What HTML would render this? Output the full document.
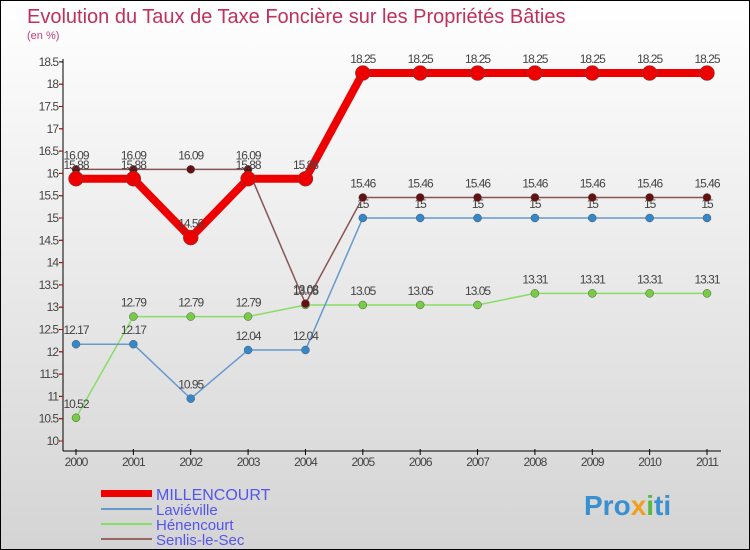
<!DOCTYPE html>
<html><head><meta charset="utf-8"><style>
body{margin:0;}
#c{position:relative;width:748px;height:548px;border:1px solid #000;background:linear-gradient(#fff,#d4d4d4);overflow:hidden;font-family:"Liberation Sans",sans-serif;}
</style></head><body>
<div id="c">
<svg id="s" width="748" height="548" style="position:absolute;left:0;top:0">
<text x="26" y="22" font-size="20" fill="#c0305a">Evolution du Taux de Taxe Foncière sur les Propriétés Bâties</text>
<text x="26" y="38" font-size="11" fill="#c0407a">(en %)</text>
<g id="axes"></g><g id="series"></g>
<g>
<rect x="100" y="489" width="51" height="7" fill="#e00"/>
<text x="155" y="499" font-size="16" fill="#5555ee">MILLENCOURT</text>
<line x1="100" y1="508" x2="151" y2="508" stroke="#6699cc" stroke-width="2"/>
<text x="155" y="514" font-size="15" fill="#5555ee">Laviéville</text>
<line x1="100" y1="523" x2="151" y2="523" stroke="#88dd66" stroke-width="2"/>
<text x="155" y="529" font-size="15" fill="#5555ee">Hénencourt</text>
<line x1="100" y1="538" x2="151" y2="538" stroke="#996666" stroke-width="2"/>
<text x="155" y="544" font-size="15" fill="#5555ee">Senlis-le-Sec</text>
</g>
<text x="583" y="514" font-size="28" font-weight="bold" fill="#3a8fd0">Pro<tspan fill="#f0a020">x</tspan><tspan fill="#55bb44">i</tspan>ti</text>
</svg>
</div>
<script>
const years=["2000","2001","2002","2003","2004","2005","2006","2007","2008","2009","2010","2011"];
const yTicks=[10,10.5,11,11.5,12,12.5,13,13.5,14,14.5,15,15.5,16,16.5,17,17.5,18,18.5];
const millencourt=[15.88,15.88,14.56,15.88,15.88,18.25,18.25,18.25,18.25,18.25,18.25,18.25];
const lavieville=[12.17,12.17,10.95,12.04,12.04,15,15,15,15,15,15,15];
const henencourt=[10.52,12.79,12.79,12.79,13.05,13.05,13.05,13.05,13.31,13.31,13.31,13.31];
const senlis=[16.09,16.09,16.09,16.09,13.08,15.46,15.46,15.46,15.46,15.46,15.46,15.46];
const NS="http://www.w3.org/2000/svg";
const x=i=>75+i*(631/(years.length-1));
const y=v=>440-(v-10)*44.6;
function mk(t,a,p){const e=document.createElementNS(NS,t);for(const k in a)e.setAttribute(k,a[k]);p.appendChild(e);return e;}
const ax=document.getElementById('axes');
let l=mk('line',{x1:62,y1:58,x2:62,y2:450,stroke:'#000'},ax);


l=mk('line',{x1:62,y1:450,x2:720,y2:450,stroke:'#000'},ax);


yTicks.forEach((v,k)=>{
 mk('line',{x1:58,y1:y(v),x2:62,y2:y(v),stroke:'#000'},ax);
 if(k>0) mk('line',{x1:59,y1:y(v)+22.3,x2:62,y2:y(v)+22.3,stroke:'#e00'},ax);
 const t=mk('text',{x:57,y:y(v)+4,'font-size':12,'text-anchor':'end',fill:'#444','letter-spacing':'-1'},ax);
 t.textContent=String(v);
 
 
});
years.forEach((yr,i)=>{
 mk('line',{x1:x(i),y1:448,x2:x(i),y2:454,stroke:'#000'},ax);
 const t=mk('text',{x:x(i),y:465,'font-size':12,'text-anchor':'middle',fill:'#444','letter-spacing':'-1'},ax);
 t.textContent=yr;
 
 
});
const sg=document.getElementById('series');
function series(name,data,color,w,r,dot){
 const g=mk('g',{},sg);
 
 
 const p=mk('polyline',{points:data.map((v,i)=>x(i)+','+y(v)).join(' '),fill:'none',stroke:color,'stroke-width':w,'stroke-linejoin':'round'},g);
 
 
 data.forEach((v,i)=>{
  const c=mk('circle',{cx:x(i),cy:y(v),r:r,fill:dot,stroke:'#555','stroke-width':0.5},g);
  
  
  const t=mk('text',{x:x(i),y:y(v)-10,'font-size':12,'text-anchor':'middle',fill:'#444','letter-spacing':'-1'},g);
  t.textContent=String(v);
  
  
 });
}
series('henencourt',henencourt,'#88dd66',1.5,4,'#77cc44');
series('lavieville',lavieville,'#6699cc',1.5,4,'#3388cc');
series('senlis',senlis,'#885555',1.5,4,'#661111');
series('millencourt',millencourt,'#ee0000',8,7.5,'#ee0000');
</script>
</body></html>
